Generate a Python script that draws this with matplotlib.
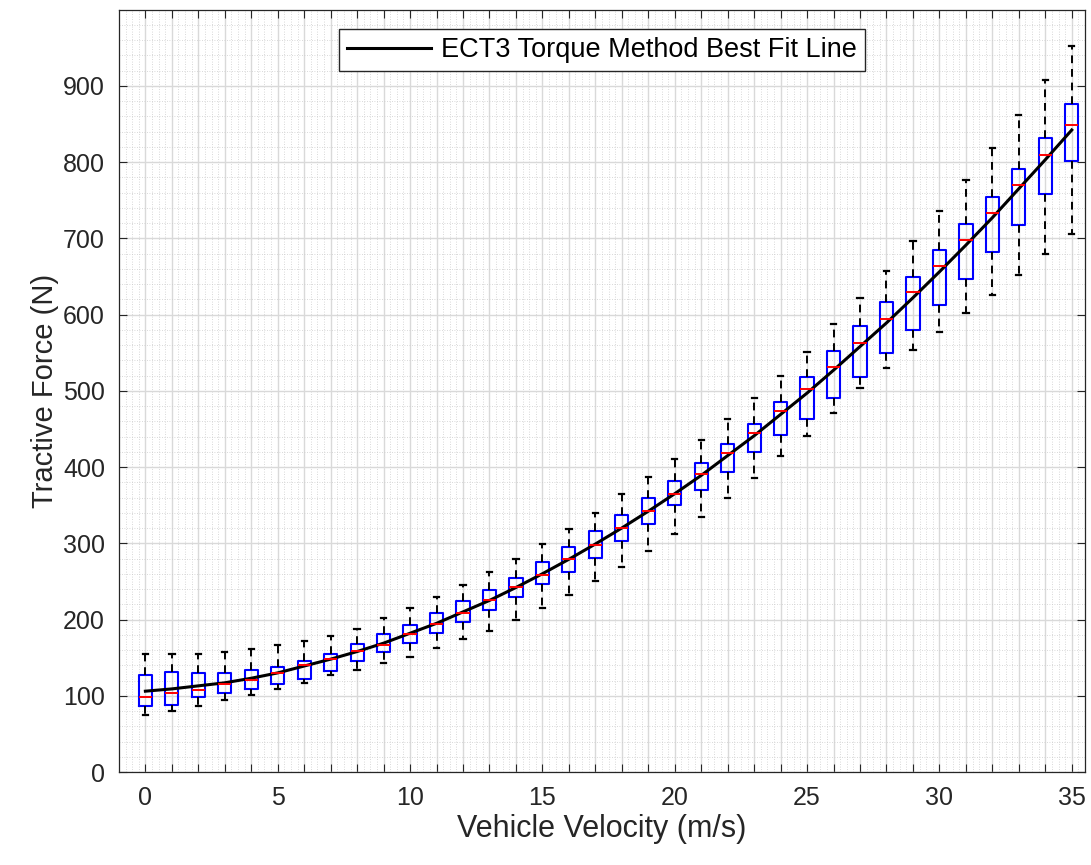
import numpy as np
import matplotlib
matplotlib.use('Agg')
import matplotlib.pyplot as plt
from matplotlib.ticker import MultipleLocator, FixedLocator, FuncFormatter

plt.rcParams['font.family'] = ['Liberation Sans', 'DejaVu Sans']

# velocity bins (m/s)
velocity = list(range(36))

# box statistics (N)
whis_hi = [155, 155, 155, 158, 161, 166, 172, 179, 188, 202, 215, 230, 245, 262, 280, 299, 319, 340,
           364, 387, 411, 436, 463, 491, 519, 551, 587, 622, 657, 697, 736, 777, 818, 862, 907, 952]
q3 = [127, 131, 130, 130, 134, 138, 146, 155, 168, 181, 193, 208, 224, 239, 255, 275, 295, 316,
      337, 359, 382, 405, 430, 456, 485, 518, 552, 585, 617, 649, 684, 719, 754, 791, 831, 876]
med = [99, 103, 107, 115, 121, 130, 141, 148, 159, 167, 181, 194, 208, 225, 242, 259, 279, 298,
       320, 342, 365, 391, 419, 445, 473, 502, 531, 562, 594, 629, 663, 698, 733, 770, 809, 849]
q1 = [87, 88, 98, 103, 109, 116, 122, 133, 145, 157, 169, 182, 197, 212, 229, 246, 262, 281,
      303, 325, 350, 370, 393, 420, 442, 463, 490, 518, 550, 580, 613, 646, 682, 718, 758, 801]
whis_lo = [75, 80, 86, 94, 101, 109, 117, 127, 134, 143, 151, 162, 175, 185, 199, 215, 232, 250,
           269, 290, 312, 335, 360, 386, 414, 441, 471, 503, 530, 553, 577, 602, 626, 652, 679, 705]

# best fit line, read at each velocity
fit_line = [106, 109, 113, 117, 123, 130, 139, 148, 158, 169, 182, 195, 210, 225, 242, 260, 279, 299,
            320, 342, 365, 389, 415, 441, 469, 497, 527, 558, 589, 622, 656, 691, 727, 765, 803, 842]

stats = []
for i in range(len(velocity)):
    stats.append({'whislo': whis_lo[i], 'q1': q1[i], 'med': med[i], 'q3': q3[i],
                  'whishi': whis_hi[i], 'fliers': []})

fig = plt.figure(figsize=(10.91, 8.65), dpi=100)
ax = fig.add_axes([0.109, 0.1075, 0.8855, 0.8815])

ax.bxp(stats, positions=velocity, widths=0.5, capwidths=0.2, showfliers=False,
       manage_ticks=False, patch_artist=False,
       boxprops=dict(color='#0000ff', linewidth=1.5),
       medianprops=dict(color='#ff0000', linewidth=1.4),
       whiskerprops=dict(color='black', linewidth=1.4, linestyle=(0, (4, 3))),
       capprops=dict(color='black', linewidth=1.6))

ax.plot(velocity, fit_line, color='black', linewidth=2.2, label='ECT3 Torque Method Best Fit Line')

ax.set_xlim(-1, 35.5)
ax.set_ylim(0, 1000)

# every bin gets a tick, labels only every 5 m/s
ax.xaxis.set_major_locator(FixedLocator(velocity))
ax.xaxis.set_major_formatter(FuncFormatter(lambda x, pos: '%d' % x if round(x) % 5 == 0 else ''))
ax.xaxis.set_minor_locator(MultipleLocator(0.25))
ax.set_yticks(range(0, 1000, 100))
ax.yaxis.set_minor_locator(MultipleLocator(20))

ax.tick_params(which='both', direction='in', top=True, right=True, colors='#262626',
               labelsize=18, pad=10)
ax.tick_params(which='major', length=6, width=0.8)
ax.tick_params(which='minor', length=0)

ax.grid(which='major', color='#d9d9d9', linewidth=1.0, linestyle='-')
ax.grid(which='minor', color='#cccccc', linewidth=0.6, linestyle=(0, (1, 2)))
ax.set_axisbelow(True)

for s in ax.spines.values():
    s.set_color('#262626')
    s.set_linewidth(0.9)

ax.set_xlabel('Vehicle Velocity (m/s)', fontsize=22, color='#262626', labelpad=3)
ax.set_ylabel('Tractive Force (N)', fontsize=21, color='#262626', labelpad=3)

leg = ax.legend(loc='upper center', bbox_to_anchor=(0.5, 0.992), fontsize=19.5,
                fancybox=False, framealpha=1, edgecolor='#262626', handlelength=3.1,
                handletextpad=0.4, borderpad=0.3)
leg.get_frame().set_linewidth(1.0)

fig.savefig('out.png', dpi=100)
